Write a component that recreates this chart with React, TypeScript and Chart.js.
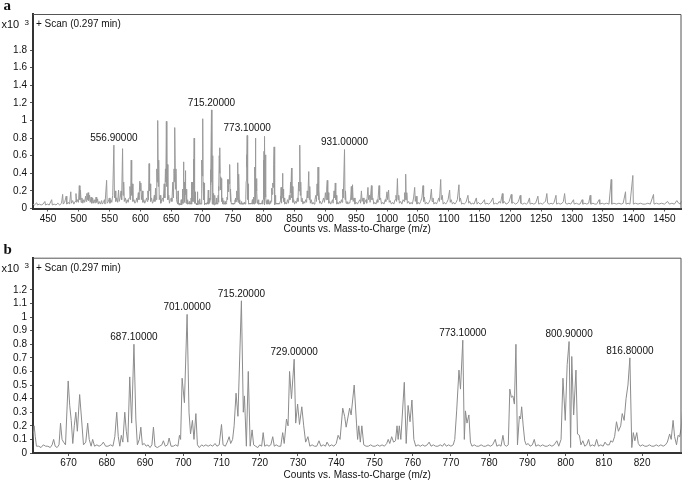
import React, { useEffect, useRef } from "react";
import { Chart, registerables } from "chart.js";

Chart.register(...registerables);

const FONT = '"Liberation Sans", Arial, Helvetica, sans-serif';
const SERIF = '"Liberation Serif", "Times New Roman", serif';

// Full-scan spectrum, low m/z part (panel a only)
const lowRangeA: [number, number][] = [
  [425, 0.05], [428, 0.04], [431.7, 0.065], [433, 0.04], [436, 0.05], [439, 0.04], [442, 0.05], [445, 0.08],
  [446, 0.04], [449, 0.05], [452, 0.04], [456, 0.1], [457, 0.04], [460, 0.05], [463, 0.04], [466, 0.06],
  [469, 0.04], [472, 0.06], [473.8, 0.16], [474.8, 0.05], [477, 0.07], [479.5, 0.14], [480.5, 0.05], [483, 0.07],
  [485, 0.05], [487, 0.19], [488, 0.06], [490, 0.09], [492, 0.05], [494, 0.08], [495.4, 0.17], [496.5, 0.07],
  [498, 0.1], [499.5, 0.07], [500.8, 0.26], [501.8, 0.1], [502.7, 0.21], [503.7, 0.07], [505, 0.12], [506.5, 0.06],
  [508, 0.1], [509.5, 0.07], [511, 0.14], [512, 0.08], [513, 0.17], [514, 0.1], [515, 0.18], [516, 0.09],
  [517.5, 0.15], [518.5, 0.07], [520, 0.13], [521, 0.06], [522.5, 0.12], [523.5, 0.06], [525, 0.1], [526.5, 0.06],
  [528, 0.13], [529, 0.07], [530.5, 0.11], [531.5, 0.05], [533, 0.08], [535, 0.05], [537, 0.09], [538, 0.05],
  [540, 0.07], [541.5, 0.1], [542.5, 0.05], [545.1, 0.32], [546, 0.06], [548, 0.08], [549.5, 0.12], [550.5, 0.06],
  [552, 0.1], [553.5, 0.07], [555, 0.15], [556.9, 0.72], [557.8, 0.12], [559, 0.2], [560, 0.08], [561.5, 0.12],
  [563, 0.07], [564.5, 0.21], [565.5, 0.08], [567, 0.12], [568.5, 0.2], [569.5, 0.1], [571, 0.68], [571.8, 0.15],
  [572.8, 0.3], [573.8, 0.08], [575.5, 0.12], [577, 0.06], [578.5, 0.1], [580, 0.07], [581.5, 0.12], [583, 0.25],
  [584, 0.1], [585, 0.55], [585.8, 0.15], [586.8, 0.28], [587.8, 0.08], [589.5, 0.1], [591, 0.06], [592.5, 0.08],
  [594, 0.12], [595, 0.07], [596.5, 0.18], [597.5, 0.1], [599, 0.31], [599.8, 0.2], [600.6, 0.29], [601.5, 0.1],
  [603, 0.2], [604, 0.07], [605.5, 0.1], [607, 0.06], [608.5, 0.09], [610, 0.12], [611, 0.08], [612, 0.2],
  [613, 0.1], [614, 0.51], [614.8, 0.2], [615.7, 0.28], [616.6, 0.08], [618, 0.12], [619.5, 0.06], [621, 0.08],
  [622.5, 0.15], [623.5, 0.08], [624.5, 0.23], [625.5, 0.1], [626.5, 0.45], [627.2, 0.3], [628, 1.0], [628.8, 0.25],
  [629.6, 0.55], [630.5, 0.1], [632, 0.15], [633, 0.06], [634.5, 0.1], [636, 0.12], [637, 0.08], [638.5, 0.28],
  [639.5, 0.12], [640.5, 0.45], [641.2, 0.3], [642, 0.99], [642.8, 0.25], [643.6, 0.5], [644.5, 0.1], [646, 0.15],
  [647, 0.06], [648.5, 0.1], [650, 0.12], [651, 0.08], [652.5, 0.3], [653.5, 0.12], [654.5, 0.45], [655.2, 0.3],
  [656, 0.92], [656.8, 0.22], [657.6, 0.45], [658.5, 0.1], [659.5, 0.07], [660.2, 0.05],
];

// Zoomed spectrum 660–831 (panel b, also part of panel a)
const spectrumB: [number, number][] = [
  [660.5, 0.06], [661.0, 0.2], [661.3, 0.12], [661.6, 0.05], [662.2, 0.05], [662.8, 0.04], [663.4, 0.06], [664.0, 0.05],
  [664.6, 0.05], [665.2, 0.04], [665.7, 0.06], [666.1, 0.1], [666.5, 0.05], [667.0, 0.04], [667.5, 0.06], [667.9, 0.22],
  [668.3, 0.1], [668.7, 0.08], [669.2, 0.06], [669.9, 0.53], [670.3, 0.35], [670.7, 0.24], [671.1, 0.07], [671.5, 0.2],
  [671.9, 0.3], [672.3, 0.16], [672.9, 0.43], [673.4, 0.25], [673.9, 0.06], [674.5, 0.08], [675.0, 0.22], [675.4, 0.1],
  [675.9, 0.05], [676.3, 0.1], [676.8, 0.05], [677.4, 0.06], [678.0, 0.05], [678.6, 0.06], [679.1, 0.08], [679.7, 0.05],
  [680.3, 0.05], [681.0, 0.06], [681.6, 0.05], [682.1, 0.12], [682.6, 0.3], [683.0, 0.12], [683.4, 0.05], [683.8, 0.13],
  [684.2, 0.08], [684.7, 0.3], [685.1, 0.16], [685.5, 0.08], [686.0, 0.56], [686.5, 0.22], [687.1, 0.8], [687.6, 0.25],
  [688.0, 0.06], [688.5, 0.1], [688.9, 0.19], [689.3, 0.06], [689.8, 0.07], [690.3, 0.05], [690.8, 0.06], [691.3, 0.04],
  [691.8, 0.06], [692.2, 0.19], [692.6, 0.05], [693.2, 0.04], [693.8, 0.05], [694.4, 0.06], [694.8, 0.09], [695.3, 0.05],
  [695.9, 0.06], [696.3, 0.11], [696.8, 0.05], [697.4, 0.05], [698.0, 0.06], [698.6, 0.05], [699.0, 0.13], [699.3, 0.1],
  [699.7, 0.55], [700.3, 0.37], [701.0, 1.02], [701.5, 0.3], [701.9, 0.14], [702.4, 0.24], [702.8, 0.1], [703.3, 0.29],
  [703.7, 0.06], [704.2, 0.04], [704.8, 0.06], [705.3, 0.05], [705.9, 0.06], [706.5, 0.05], [707.1, 0.06], [707.7, 0.05],
  [708.3, 0.07], [708.8, 0.05], [709.4, 0.06], [710.0, 0.21], [710.4, 0.06], [711.0, 0.05], [711.5, 0.08], [712.0, 0.12],
  [712.4, 0.07], [712.9, 0.1], [713.3, 0.2], [713.8, 0.44], [714.3, 0.27], [715.2, 1.12], [715.7, 0.3], [716.0, 0.42],
  [716.5, 0.05], [717.0, 0.6], [717.5, 0.05], [718.0, 0.17], [718.4, 0.06], [718.9, 0.05], [719.5, 0.04], [720.0, 0.06],
  [720.5, 0.05], [720.9, 0.15], [721.3, 0.05], [721.9, 0.06], [722.4, 0.05], [722.9, 0.06], [723.4, 0.12], [723.8, 0.05],
  [724.3, 0.06], [724.9, 0.05], [725.5, 0.05], [726.0, 0.15], [726.4, 0.07], [727.0, 0.25], [727.4, 0.2], [727.8, 0.6],
  [728.3, 0.4], [729.0, 0.69], [729.4, 0.22], [729.9, 0.36], [730.4, 0.21], [731.0, 0.34], [731.5, 0.2], [732.0, 0.08],
  [732.6, 0.12], [733.1, 0.05], [733.7, 0.06], [734.3, 0.05], [734.9, 0.05], [735.5, 0.09], [736.0, 0.05], [736.6, 0.06],
  [737.2, 0.05], [737.6, 0.08], [738.2, 0.05], [738.8, 0.06], [739.4, 0.05], [740.0, 0.07], [740.5, 0.13], [741.0, 0.1],
  [741.7, 0.33], [742.2, 0.27], [742.6, 0.19], [743.5, 0.33], [743.9, 0.28], [744.7, 0.5], [745.3, 0.22], [745.6, 0.1],
  [745.9, 0.2], [746.3, 0.08], [746.7, 0.2], [747.2, 0.06], [747.8, 0.05], [748.4, 0.05], [749.0, 0.06], [749.6, 0.05],
  [750.2, 0.05], [750.8, 0.06], [751.4, 0.05], [752.0, 0.06], [752.6, 0.05], [753.2, 0.07], [753.6, 0.1], [754.0, 0.07],
  [754.5, 0.12], [755.0, 0.08], [755.5, 0.09], [755.9, 0.2], [756.2, 0.1], [756.5, 0.2], [756.9, 0.1], [757.8, 0.52],
  [758.3, 0.07], [758.8, 0.35], [759.3, 0.23], [759.8, 0.39], [760.3, 0.1], [760.8, 0.05], [761.4, 0.06], [762.0, 0.05],
  [762.6, 0.06], [763.2, 0.05], [763.8, 0.06], [764.3, 0.08], [764.8, 0.05], [765.4, 0.06], [766.0, 0.05], [766.6, 0.05],
  [767.2, 0.06], [767.8, 0.05], [768.3, 0.07], [768.8, 0.05], [769.4, 0.06], [770.0, 0.05], [770.6, 0.06], [771.0, 0.1],
  [771.5, 0.31], [772.1, 0.61], [772.5, 0.47], [773.1, 0.83], [773.5, 0.1], [773.8, 0.31], [774.2, 0.22], [774.7, 0.28],
  [775.1, 0.08], [775.5, 0.05], [776.1, 0.06], [776.7, 0.05], [777.3, 0.05], [777.9, 0.06], [778.5, 0.05], [779.1, 0.05],
  [779.7, 0.06], [780.3, 0.05], [780.9, 0.06], [781.6, 0.1], [782.0, 0.05], [782.6, 0.06], [783.1, 0.05], [783.6, 0.13],
  [784.0, 0.06], [784.5, 0.05], [785.0, 0.06], [785.4, 0.47], [785.8, 0.41], [786.2, 0.42], [786.6, 0.36], [787.0, 0.8],
  [787.4, 0.06], [787.9, 0.27], [788.2, 0.25], [788.5, 0.34], [788.9, 0.2], [789.3, 0.09], [789.7, 0.06], [790.2, 0.07],
  [790.7, 0.05], [791.3, 0.06], [791.8, 0.1], [792.2, 0.05], [792.8, 0.06], [793.4, 0.05], [794.0, 0.06], [794.6, 0.05],
  [795.2, 0.05], [795.8, 0.06], [796.4, 0.05], [797.0, 0.06], [797.7, 0.09], [798.2, 0.05], [798.8, 0.1], [799.3, 0.55],
  [799.9, 0.24], [800.4, 0.65], [800.9, 0.82], [801.3, 0.04], [801.6, 0.71], [802.1, 0.28], [802.7, 0.61], [803.1, 0.14],
  [803.6, 0.13], [804.0, 0.06], [804.5, 0.09], [805.0, 0.05], [805.5, 0.06], [806.0, 0.1], [806.4, 0.05], [807.0, 0.06],
  [807.6, 0.05], [808.1, 0.1], [808.6, 0.05], [809.2, 0.06], [809.8, 0.05], [810.3, 0.08], [810.8, 0.06], [811.4, 0.06],
  [811.8, 0.09], [812.3, 0.08], [812.8, 0.12], [813.3, 0.23], [813.8, 0.16], [814.4, 0.2], [814.8, 0.29], [815.3, 0.24],
  [815.8, 0.4], [816.3, 0.5], [816.8, 0.7], [817.3, 0.04], [817.7, 0.15], [818.1, 0.09], [818.6, 0.15], [819.0, 0.07],
  [819.5, 0.05], [820.1, 0.06], [820.7, 0.05], [821.3, 0.05], [821.9, 0.06], [822.5, 0.05], [823.1, 0.05], [823.7, 0.06],
  [824.3, 0.05], [824.9, 0.06], [825.5, 0.05], [826.1, 0.06], [826.6, 0.08], [827.2, 0.14], [827.6, 0.1], [828.1, 0.24],
  [828.5, 0.12], [829.0, 0.06], [829.4, 0.13], [829.8, 0.12], [830.2, 0.18], [830.8, 0.4], [831.2, 0.15],
];

// Full-scan spectrum, high m/z part (panel a only)
const highRangeA: [number, number][] = [
  [831.5, 0.22], [832.2, 0.08], [833, 0.12], [834, 0.05], [835.5, 0.07], [837, 0.05], [838.5, 0.1], [840, 0.06],
  [841.5, 0.15], [842.5, 0.1], [843.5, 0.3], [844, 0.18], [845, 0.46], [845.7, 0.12], [846.5, 0.25], [847.3, 0.07],
  [848.5, 0.1], [850, 0.05], [851.5, 0.08], [853, 0.06], [854.5, 0.12], [855.5, 0.08], [856.5, 0.3], [857.2, 0.2],
  [858.4, 0.72], [859.2, 0.15], [860, 0.3], [860.8, 0.08], [862, 0.12], [863.5, 0.05], [865, 0.08], [866.5, 0.06],
  [868, 0.1], [869.5, 0.07], [870.5, 0.2], [871.5, 0.12], [873, 0.42], [873.8, 0.1], [874.6, 0.25], [875.5, 0.06],
  [877, 0.1], [878.5, 0.05], [880, 0.07], [881.5, 0.05], [883, 0.1], [884.5, 0.15], [885.5, 0.08], [886.5, 0.28],
  [887.2, 0.15], [888, 0.47], [888.8, 0.1], [889.6, 0.2], [890.5, 0.06], [892, 0.08], [893.5, 0.05], [895, 0.07],
  [897, 0.12], [898.5, 0.07], [900, 0.18], [901, 0.1], [902, 0.22], [903, 0.32], [903.8, 0.1], [904.6, 0.18],
  [905.5, 0.06], [907, 0.08], [908.5, 0.05], [910, 0.07], [911.5, 0.1], [912.5, 0.06], [914, 0.2], [915, 0.12],
  [916, 0.29], [916.8, 0.1], [917.6, 0.15], [918.5, 0.05], [920, 0.07], [921.5, 0.05], [923, 0.08], [924.5, 0.06],
  [926, 0.1], [927, 0.07], [928, 0.22], [929, 0.12], [931, 0.67], [931.8, 0.1], [932.6, 0.2], [933.5, 0.06],
  [935, 0.08], [936.5, 0.05], [938, 0.07], [939.5, 0.06], [941, 0.12], [942, 0.25], [943, 0.1], [944, 0.27],
  [945, 0.08], [946.5, 0.12], [948, 0.05], [950, 0.07], [952, 0.05], [954, 0.08], [956, 0.1], [957, 0.06],
  [958.4, 0.2], [959.5, 0.08], [961, 0.12], [962.5, 0.05], [964, 0.07], [966, 0.1], [967, 0.06], [969, 0.24],
  [970, 0.1], [971.5, 0.15], [972.5, 0.07], [974.6, 0.26], [975.5, 0.1], [977, 0.12], [978.5, 0.05], [980, 0.07],
  [982, 0.05], [984, 0.1], [985, 0.07], [987, 0.26], [988, 0.1], [989.5, 0.12], [991, 0.05], [993, 0.07],
  [995, 0.05], [997, 0.1], [998, 0.08], [999.9, 0.19], [1001, 0.1], [1002.5, 0.21], [1003.5, 0.07], [1005, 0.09],
  [1007, 0.05], [1009, 0.07], [1011, 0.05], [1013, 0.1], [1014.5, 0.15], [1015.5, 0.08], [1016.8, 0.34], [1017.8, 0.1],
  [1019, 0.15], [1020, 0.06], [1022, 0.08], [1024, 0.05], [1026, 0.1], [1027.5, 0.08], [1028.5, 0.18], [1029.4, 0.1],
  [1030.2, 0.39], [1031, 0.1], [1032, 0.18], [1033, 0.06], [1035, 0.08], [1037, 0.05], [1039, 0.07], [1041, 0.05],
  [1043, 0.12], [1044.8, 0.24], [1045.8, 0.08], [1047, 0.14], [1048.5, 0.05], [1050.5, 0.07], [1052.5, 0.05], [1054.5, 0.08],
  [1056.5, 0.12], [1058.3, 0.26], [1059.3, 0.08], [1060.5, 0.13], [1062, 0.05], [1064, 0.07], [1066, 0.05], [1068, 0.07],
  [1070, 0.1], [1071.9, 0.22], [1073, 0.08], [1074.5, 0.12], [1076, 0.05], [1078, 0.07], [1080, 0.05], [1082, 0.08],
  [1084, 0.12], [1085, 0.08], [1087, 0.33], [1088, 0.1], [1089.5, 0.15], [1091, 0.05], [1093, 0.07], [1095, 0.05],
  [1097, 0.07], [1099, 0.1], [1101.5, 0.21], [1102.5, 0.07], [1104, 0.1], [1106, 0.05], [1108, 0.07], [1110, 0.05],
  [1112, 0.07], [1114, 0.1], [1116.6, 0.27], [1117.6, 0.08], [1119, 0.12], [1121, 0.05], [1123, 0.06], [1125, 0.05],
  [1128, 0.07], [1131.2, 0.15], [1132.5, 0.06], [1134, 0.08], [1136, 0.05], [1139, 0.06], [1141, 0.05], [1144.8, 0.12],
  [1146, 0.05], [1148, 0.07], [1151, 0.05], [1154, 0.06], [1158, 0.1], [1159, 0.05], [1162, 0.06], [1165, 0.05],
  [1168, 0.07], [1171.7, 0.12], [1173, 0.05], [1176, 0.06], [1179, 0.05], [1182, 0.08], [1184, 0.06], [1187, 0.17],
  [1188, 0.06], [1190, 0.08], [1193, 0.05], [1196, 0.06], [1198, 0.08], [1201.5, 0.16], [1202.5, 0.06], [1205, 0.07],
  [1208, 0.05], [1211, 0.06], [1213, 0.08], [1216.1, 0.15], [1217, 0.06], [1220, 0.05], [1223, 0.06], [1226, 0.05],
  [1228, 0.06], [1231, 0.12], [1232, 0.05], [1235, 0.06], [1238, 0.05], [1241, 0.06], [1244.7, 0.14], [1246, 0.05],
  [1249, 0.06], [1252, 0.05], [1255, 0.07], [1257, 0.08], [1259.2, 0.17], [1260.5, 0.06], [1263, 0.05], [1266, 0.06],
  [1269, 0.05], [1271, 0.07], [1274, 0.15], [1275, 0.05], [1278, 0.06], [1281, 0.05], [1284, 0.06], [1286, 0.08],
  [1288, 0.17], [1289.5, 0.06], [1292, 0.05], [1295, 0.06], [1298, 0.05], [1302.4, 0.1], [1303.5, 0.05], [1307, 0.06],
  [1310, 0.05], [1313, 0.05], [1316.5, 0.1], [1317.5, 0.05], [1321, 0.06], [1324, 0.05], [1327, 0.06], [1329.5, 0.15],
  [1330.5, 0.05], [1334, 0.06], [1337, 0.05], [1340, 0.05], [1344, 0.1], [1345, 0.05], [1349, 0.06], [1352, 0.05],
  [1356, 0.06], [1360, 0.05], [1363.6, 0.33], [1364.4, 0.05], [1368, 0.06], [1372, 0.05], [1376, 0.06], [1380, 0.05],
  [1383, 0.06], [1386.8, 0.19], [1387.6, 0.05], [1391, 0.06], [1394, 0.05], [1398.7, 0.375], [1399.5, 0.05], [1403, 0.06],
  [1407, 0.05], [1411, 0.06], [1415, 0.05], [1419, 0.05], [1423, 0.06], [1427, 0.05], [1432.2, 0.16], [1433, 0.05],
  [1437, 0.06], [1441, 0.05], [1445, 0.06], [1450, 0.05], [1455, 0.08], [1458, 0.05], [1462, 0.06], [1466, 0.05],
  [1470, 0.09], [1473, 0.06], [1476, 0.05], [1478, 0.09],
];

const spectrumA: [number, number][] = [...lowRangeA, ...spectrumB, ...highRangeA];

const xTicksA = [450, 500, 550, 600, 650, 700, 750, 800, 850, 900, 950, 1000, 1050, 1100, 1150, 1200, 1250, 1300, 1350, 1400, 1450];
const yTicksA = [0, 0.2, 0.4, 0.6, 0.8, 1, 1.2, 1.4, 1.6, 1.8];
const xTicksB = [670, 680, 690, 700, 710, 720, 730, 740, 750, 760, 770, 780, 790, 800, 810, 820];
const yTicksB = [0, 0.1, 0.2, 0.3, 0.4, 0.5, 0.6, 0.7, 0.8, 0.9, 1, 1.1, 1.2];

const peakMzA = [556.9, 715.2, 773.1, 931.0];
const peakIntA = [0.72, 1.12, 0.83, 0.67];
const peakMzB = [687.1, 701.0, 715.2, 729.0, 773.1, 800.9, 816.8];
const peakIntB = [0.8, 1.02, 1.12, 0.69, 0.83, 0.82, 0.7];

const scanLabel = "+ Scan (0.297 min)";
const axisTitle = "Counts vs. Mass-to-Charge (m/z)";

type PanelProps = {
  letter: string;
  data: [number, number][];
  xMin: number;
  xMax: number;
  yMax: number;
  xTicks: number[];
  yTicks: number[];
  peakMz: number[];
  peakInt: number[];
  height: number;
  padTop: number;
  xAxisHeight: number;
  tickPad: number;
  titlePad: number;
  lineColor: string;
};

function Panel(p: PanelProps) {
  const ref = useRef<HTMLCanvasElement | null>(null);
  useEffect(() => {
    if (!ref.current) return;
    const overlay = {
      id: "overlay",
      afterDraw(chart: any) {
        const { ctx, chartArea: ca, scales } = chart;
        ctx.save();
        ctx.strokeStyle = "#555";
        ctx.lineWidth = 1;
        ctx.beginPath();
        ctx.moveTo(ca.left, ca.top + 0.5);
        ctx.lineTo(ca.right - 0.5, ca.top + 0.5);
        ctx.lineTo(ca.right - 0.5, ca.bottom);
        ctx.stroke();
        ctx.fillStyle = "#111";
        ctx.textBaseline = "middle";
        ctx.textAlign = "left";
        ctx.font = `10px ${FONT}`;
        ctx.fillText(scanLabel, ca.left + 3, ca.top + 10.5);
        ctx.font = `11px ${FONT}`;
        ctx.fillText("x10", 1.5, ca.top + 11);
        ctx.font = `8px ${FONT}`;
        ctx.fillText("3", 24.5, ca.top + 8.5);
        ctx.font = `bold 15px ${SERIF}`;
        ctx.fillText(p.letter, 3.5, ca.top - 8);
        ctx.font = `10px ${FONT}`;
        ctx.textAlign = "center";
        p.peakMz.forEach((m, i) => {
          const x = scales.x.getPixelForValue(m);
          const y = scales.y.getPixelForValue(p.peakInt[i]) - 7;
          ctx.fillText(m.toFixed(5), x, y);
        });
        ctx.restore();
      },
    };
    const chart = new Chart(ref.current, {
      type: "line",
      data: {
        datasets: [
          {
            data: p.data.map(([x, y]) => ({ x, y })),
            borderColor: p.lineColor,
            borderWidth: 1,
            pointRadius: 0,
            tension: 0,
            fill: false,
          },
        ],
      },
      options: {
        responsive: false,
        animation: false,
        events: [],
        layout: { padding: { left: 0, right: 3.5, top: p.padTop, bottom: 0 } },
        plugins: { legend: { display: false }, tooltip: { enabled: false } },
        scales: {
          x: {
            type: "linear",
            min: p.xMin,
            max: p.xMax,
            afterBuildTicks: (s: any) => {
              s.ticks = p.xTicks.map((v) => ({ value: v }));
            },
            afterFit: (s: any) => {
              s.height = p.xAxisHeight;
            },
            ticks: {
              autoSkip: false,
              maxRotation: 0,
              padding: p.tickPad,
              color: "#111",
              font: { size: 10, family: FONT },
              callback: (v: any) => String(v),
            },
            grid: { drawOnChartArea: false, drawTicks: true, tickLength: 3, color: "#555" },
            border: { display: true, color: "#333", width: 2 },
            title: {
              display: true,
              text: axisTitle,
              color: "#111",
              font: { size: 10, family: FONT },
              padding: { top: 0, bottom: p.titlePad },
            },
          },
          y: {
            type: "linear",
            min: 0,
            max: p.yMax,
            afterBuildTicks: (s: any) => {
              s.ticks = p.yTicks.map((v) => ({ value: v }));
            },
            afterFit: (s: any) => {
              s.width = 33;
            },
            ticks: {
              autoSkip: false,
              padding: 3,
              color: "#111",
              font: { size: 10, family: FONT },
              callback: (v: any) => String(v),
            },
            grid: { drawOnChartArea: false, drawTicks: true, tickLength: 3, color: "#555" },
            border: { display: true, color: "#333", width: 2 },
          },
        },
      },
      plugins: [overlay],
    } as any);
    return () => chart.destroy();
  }, []);
  return <canvas ref={ref} width={685} height={p.height} style={{ display: "block", width: 685, height: p.height }} />;
}

export default function App() {
  return (
    <div style={{ position: "absolute", left: 0, top: 0, width: 685, height: 483, background: "#fff" }}>
      <Panel
        letter="a"
        data={spectrumA}
        xMin={425.7}
        xMax={1477.6}
        yMax={2.21}
        xTicks={xTicksA}
        yTicks={yTicksA}
        peakMz={peakMzA}
        peakInt={peakIntA}
        height={240}
        padTop={14}
        xAxisHeight={31.5}
        tickPad={2}
        titlePad={4.5}
        lineColor="#999"
      />
      <Panel
        letter="b"
        data={spectrumB}
        xMin={660.7}
        xMax={830.3}
        yMax={1.437}
        xTicks={xTicksB}
        yTicks={yTicksB}
        peakMz={peakMzB}
        peakInt={peakIntB}
        height={243}
        padTop={17.7}
        xAxisHeight={30}
        tickPad={1}
        titlePad={2}
        lineColor="#8c8c8c"
      />
    </div>
  );
}
